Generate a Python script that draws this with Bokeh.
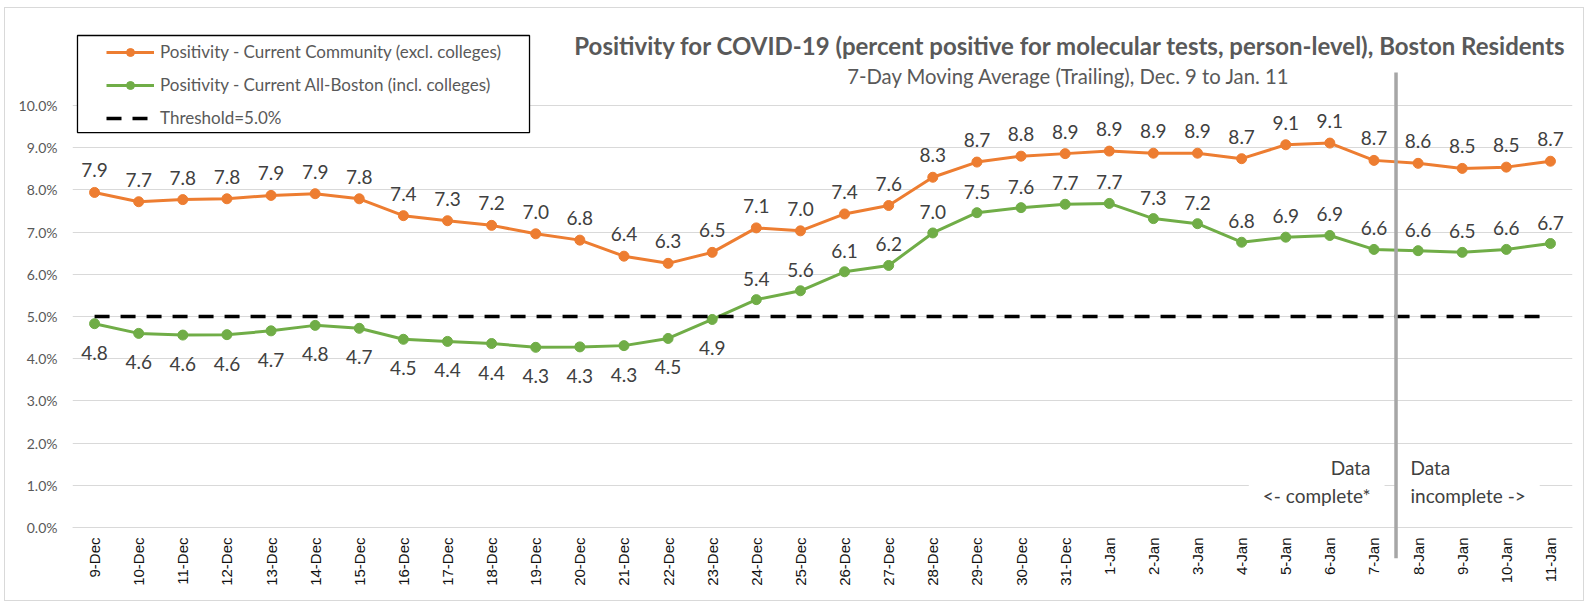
import math
from bokeh.plotting import figure
from bokeh.models import (Range1d, FixedTicker, PrintfTickFormatter, ColumnDataSource,
                          Legend, LegendItem, BoxAnnotation, Arrow, Label)
from bokeh.core.properties import value
from bokeh.embed import file_html
from bokeh.resources import INLINE

# ---------------- data ----------------
dates = ["9-Dec", "10-Dec", "11-Dec", "12-Dec", "13-Dec", "14-Dec", "15-Dec", "16-Dec",
         "17-Dec", "18-Dec", "19-Dec", "20-Dec", "21-Dec", "22-Dec", "23-Dec", "24-Dec",
         "25-Dec", "26-Dec", "27-Dec", "28-Dec", "29-Dec", "30-Dec", "31-Dec", "1-Jan",
         "2-Jan", "3-Jan", "4-Jan", "5-Jan", "6-Jan", "7-Jan", "8-Jan", "9-Jan", "10-Jan",
         "11-Jan"]

community = [7.94, 7.72, 7.77, 7.79, 7.87, 7.91, 7.79, 7.39, 7.27, 7.16, 6.96, 6.81,
             6.43, 6.26, 6.52, 7.10, 7.03, 7.43, 7.63, 8.30, 8.66, 8.80, 8.86, 8.92,
             8.87, 8.87, 8.74, 9.07, 9.11, 8.70, 8.63, 8.51, 8.54, 8.68]

all_boston = [4.83, 4.60, 4.56, 4.57, 4.66, 4.79, 4.72, 4.46, 4.41, 4.36, 4.27, 4.28,
              4.31, 4.48, 4.93, 5.40, 5.61, 6.06, 6.21, 6.98, 7.46, 7.58, 7.66, 7.68,
              7.32, 7.20, 6.76, 6.88, 6.92, 6.59, 6.56, 6.52, 6.59, 6.73]

threshold_value = 5.0
threshold = [threshold_value for _ in dates]

y_ticks = [0, 1, 2, 3, 4, 5, 6, 7, 8, 9, 10]

title_text = "Positivity for COVID-19 (percent positive for molecular tests, person-level), Boston Residents"
subtitle_text = "7-Day Moving Average (Trailing), Dec. 9 to Jan. 11"
series_names = ["Positivity - Current Community (excl. colleges)",
                "Positivity - Current All-Boston (incl. colleges)",
                "Threshold=5.0%"]
note_complete = "Data\n<- complete*"
note_incomplete = "Data\nincomplete ->"

# ---------------- styles ----------------
ORANGE = "#ED7D31"
GREEN = "#70AD47"
GRID = "#D9D9D9"
TXT = "#404040"
CAL = "Lato"

xs = list(range(len(dates)))
src = ColumnDataSource(dict(
    x=xs,
    community=community,
    all_boston=all_boston,
    threshold=threshold,
    c_lab=[f"{v:.1f}" for v in community],
    g_lab=[f"{v:.1f}" for v in all_boston],
    g_off=[29 if v < threshold_value else -21 for v in all_boston],
))

p = figure(width=1586, height=604, x_range=Range1d(-0.5, 33.5),
           y_range=Range1d(-1.73, 11.92),
           output_backend="svg", toolbar_location=None,
           min_border_left=72, min_border_right=14, min_border_top=24, min_border_bottom=4)
p.outline_line_color = None
p.background_fill_color = "white"
p.border_fill_color = "white"
# light grey frame around the whole chart area
p.stylesheets = [":host { position: relative; } "
                 ":host::after { content: ''; position: absolute; left: 4px; top: 7px; "
                 "right: 2px; bottom: 3px; border: 1.5px solid #D9D9D9; "
                 "pointer-events: none; z-index: 100; }"]

# axes
p.xaxis.fixed_location = 0
p.xaxis.ticker = FixedTicker(ticks=xs)
p.xaxis.major_label_overrides = {i: d for i, d in enumerate(dates)}
p.xaxis.major_label_orientation = math.pi / 2
p.xaxis.major_tick_out = 0
p.xaxis.major_tick_in = 0
p.xaxis.minor_tick_out = 0
p.xaxis.minor_tick_in = 0
p.xaxis.axis_line_color = GRID
p.xaxis.major_label_standoff = 10
p.xaxis.major_label_text_font = "Arial"
p.xaxis.major_label_text_font_style = "normal"
p.xaxis.major_label_text_font_size = "15px"
p.xaxis.major_label_text_color = "#111111"

p.yaxis.ticker = FixedTicker(ticks=y_ticks)
p.yaxis.formatter = PrintfTickFormatter(format="%.1f%%")
p.yaxis.axis_line_color = None
p.yaxis.major_tick_out = 0
p.yaxis.major_tick_in = 0
p.yaxis.minor_tick_out = 0
p.yaxis.minor_tick_in = 0
p.yaxis.major_label_standoff = 15
p.yaxis.major_label_text_font = CAL
p.yaxis.major_label_text_font_size = "14px"
p.yaxis.major_label_text_color = "#595959"

p.xgrid.grid_line_color = None
p.ygrid.grid_line_color = GRID
p.ygrid.grid_line_width = 1

# series
c_line = p.line("x", "community", source=src, line_color=ORANGE, line_width=3)
c_pts = p.scatter("x", "community", source=src, size=10, marker="circle",
                  fill_color=ORANGE, line_color=ORANGE)
g_line = p.line("x", "all_boston", source=src, line_color=GREEN, line_width=3)
g_pts = p.scatter("x", "all_boston", source=src, size=10, marker="circle",
                  fill_color=GREEN, line_color=GREEN)
t_line = p.line("x", "threshold", source=src, line_color="black", line_width=3.5,
                line_dash="15 11")

# data labels
p.text("x", "community", text="c_lab", source=src, y_offset=-22,
       text_align="center", text_baseline="middle", text_font=value(CAL),
       text_font_size="19px", text_color=TXT)
p.text("x", "all_boston", text="g_lab", source=src, y_offset="g_off",
       text_align="center", text_baseline="middle", text_font=value(CAL),
       text_font_size="19px", text_color=TXT)

# notes about data completeness
pad = dict(left=14, right=14, top=4, bottom=4)
p.add_layout(Label(x=29.24, y=1.09, text=note_complete, text_align="right",
                   text_baseline="middle", text_font=CAL, text_font_size="19px",
                   text_color=TXT, background_fill_color="white", padding=pad))
p.add_layout(Label(x=29.51, y=1.09, text=note_incomplete, text_align="left",
                   text_baseline="middle", text_font=CAL, text_font_size="19px",
                   text_color=TXT, background_fill_color="white", padding=pad))

# divider between complete / incomplete data
p.add_layout(Arrow(x_start=29.5, y_start=10.78, x_end=29.5, y_end=-0.73,
                   start=None, end=None, line_color="#A6A6A6", line_width=3.5))

# titles
p.add_layout(Label(x=22.12, y=11.42, text=title_text, text_align="center",
                   text_baseline="middle", text_font=CAL, text_font_style="bold",
                   text_font_size="24px", text_color="#595959"))
p.add_layout(Label(x=22.08, y=10.69, text=subtitle_text, text_align="center",
                   text_baseline="middle", text_font=CAL, text_font_size="20.3px",
                   text_color="#595959"))

# legend box + legend
p.add_layout(BoxAnnotation(left=-0.387, right=9.859, top=11.659, bottom=9.36,
                           fill_color="white", fill_alpha=1.0,
                           line_color="black", line_width=1.3, line_alpha=1.0))
legend = Legend(items=[LegendItem(label=series_names[0], renderers=[c_line, c_pts]),
                       LegendItem(label=series_names[1], renderers=[g_line, g_pts]),
                       LegendItem(label=series_names[2], renderers=[t_line])],
                location=(34, 472), border_line_color=None, background_fill_alpha=0,
                padding=7, spacing=12, label_height=20, glyph_height=20, glyph_width=48,
                label_standoff=6, margin=0, label_text_font=CAL,
                label_text_font_size="17px", label_text_color="#595959")
p.add_layout(legend)

open("out.html", "w").write(file_html(p, INLINE))
